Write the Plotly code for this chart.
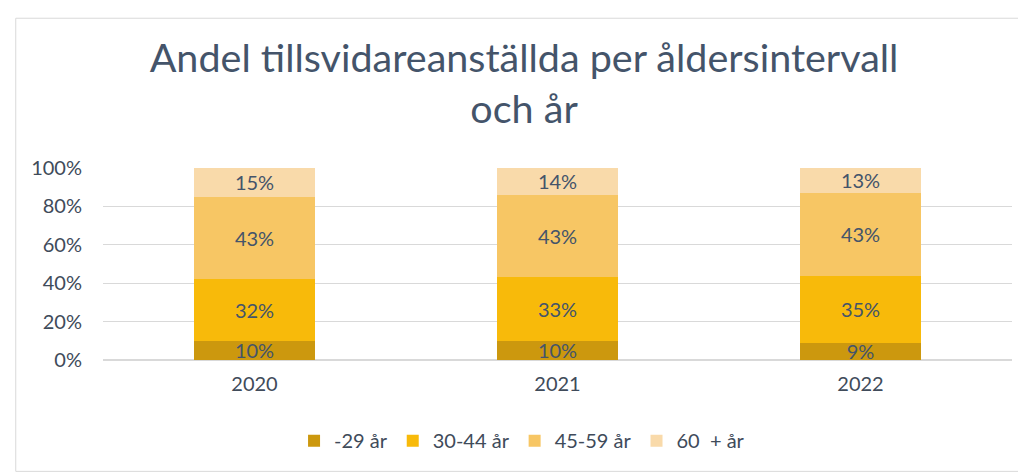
import plotly.graph_objects as go

# Data
years = ["2020", "2021", "2022"]
groups = ["-29 år", "30-44 år", "45-59 år", "60  + år"]
andel_29 = [10, 10, 9]
andel_30_44 = [32, 33, 35]
andel_45_59 = [43, 43, 43]
andel_60 = [15, 14, 13]
y_ticks = [0, 20, 40, 60, 80, 100]

series = [andel_29, andel_30_44, andel_45_59, andel_60]
colors = ["#CC980E", "#F8BA0A", "#F7C664", "#F9DAAA"]

fig = go.Figure()
for name, vals, col in zip(groups, series, colors):
    fig.add_trace(go.Bar(
        x=years,
        y=vals,
        name=name,
        marker=dict(color=col, line=dict(width=0)),
        text=[f"{v}%" for v in vals],
        textposition="inside",
        insidetextanchor="middle",
        textfont=dict(size=20, color="#44546A"),
        constraintext="none",
    ))

fig.update_layout(
    barmode="stack",
    bargap=0.6,
    width=1026,
    height=474,
    title=dict(
        text="Andel tillsvidareanställda per åldersintervall<br>och år",
        font=dict(size=39.5, color="#44546A"),
        x=0.503,
        xanchor="center",
        y=0.866,
        yanchor="top",
    ),
    font=dict(family="Lato", size=20, color="#404B5A"),
    margin=dict(l=95, r=22, t=160, b=122),
    paper_bgcolor="white",
    plot_bgcolor="white",
    showlegend=True,
    legend=dict(
        orientation="h",
        x=0.461,
        xanchor="center",
        y=-0.42,
        yanchor="middle",
        font=dict(size=20, color="#404B5A"),
        traceorder="normal",
    ),
    shapes=[dict(
        type="rect", xref="paper", yref="paper",
        x0=-0.096, x1=1.018, y0=-0.58, y1=1.78,
        line=dict(color="#D9D9D9", width=1),
    )],
)

fig.update_yaxes(
    range=[0, 100],
    tickvals=y_ticks,
    ticktext=[f"{t}%" for t in y_ticks],
    showgrid=True,
    gridcolor="#D9D9D9",
    gridwidth=1,
    zeroline=True,
    zerolinecolor="#D9D9D9",
    tickfont=dict(size=20, color="#404B5A"),
    ticks="",
    ticklabelstandoff=20,
)

fig.update_xaxes(
    tickfont=dict(size=20, color="#404B5A"),
    showline=False,
    ticks="",
    ticklabelstandoff=10,
)

fig.write_html("out.html")
